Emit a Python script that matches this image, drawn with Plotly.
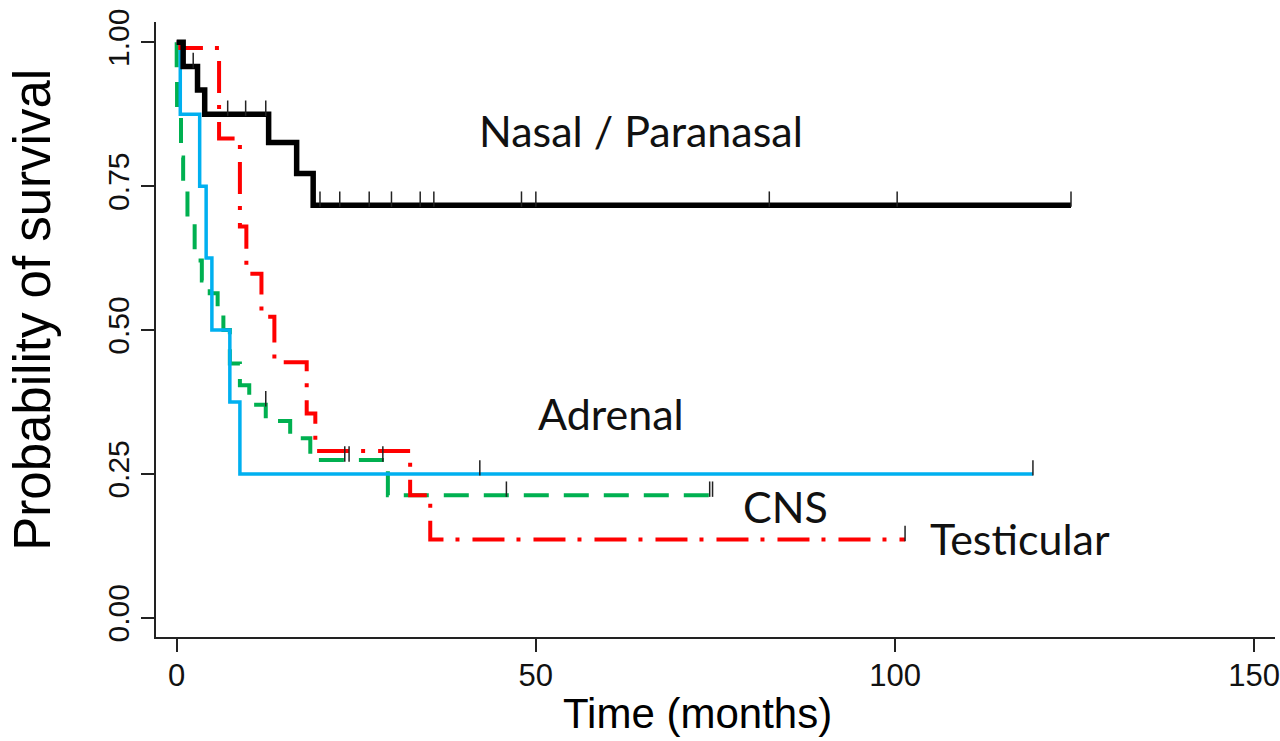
import plotly.graph_objects as go

# ---------------- data ----------------
# Nasal / Paranasal (black)
nasal_t = [0.9, 2.9, 3.9, 12.8, 16.7, 19.0]
nasal_s = [0.958, 0.917, 0.875, 0.826, 0.772, 0.717]
nasal_end = 124.5
nasal_cens_t = [2.3, 7.1, 9.6, 12.4, 19.95, 22.7, 26.8, 29.9, 33.9, 35.8, 48.0, 50.0, 82.5, 100.3, 124.5]
nasal_cens_s = [0.958, 0.875, 0.875, 0.875, 0.717, 0.717, 0.717, 0.717, 0.717, 0.717, 0.717, 0.717, 0.717, 0.717, 0.717]

# Testicular (red)
test_t = [0.5, 5.9, 8.8, 9.7, 11.8, 13.6, 18.1, 19.3, 32.5, 35.3]
test_s = [0.99, 0.833, 0.68, 0.598, 0.523, 0.444, 0.355, 0.29, 0.213, 0.136]
test_end = 101.4
test_cens_t = [101.4]
test_cens_s = [0.136]

# Adrenal (blue)
adr_t = [0.5, 3.2, 4.1, 4.9, 7.4, 8.8]
adr_s = [0.875, 0.75, 0.625, 0.5, 0.375, 0.25]
adr_end = 119.2
adr_cens_t = [42.2, 119.2]
adr_cens_s = [0.25, 0.25]

# CNS (green)
cns_t = [0.0, 0.05, 0.6, 0.9, 1.5, 2.5, 3.5, 4.6, 5.7, 6.5, 7.4, 8.8, 10.1, 12.4, 15.8, 18.6, 29.4]
cns_s = [0.943, 0.878, 0.80, 0.755, 0.685, 0.621, 0.586, 0.564, 0.53, 0.50, 0.442, 0.404, 0.37, 0.342, 0.312, 0.274, 0.213]
cns_end = 74.6
cns_cens_t = [12.4, 23.4, 24.0, 28.7, 45.9, 74.2, 74.6]
cns_cens_s = [0.37, 0.274, 0.274, 0.274, 0.213, 0.213, 0.213]

x_ticks = [0, 50, 100, 150]
y_ticks = [0.0, 0.25, 0.5, 0.75, 1.0]
y_ticktext = ["0.00", "0.25", "0.50", "0.75", "1.00"]

labels = ["Nasal / Paranasal", "Adrenal", "CNS", "Testicular"]
label_x = [64.6, 60.5, 84.8, 117.4]
label_y = [0.847, 0.355, 0.194, 0.138]

# ---------------- styles ----------------
TICK_OFF = 0.0105   # lift censor ticks so they sit on top of the line
AXIS_FONT = "Liberation Sans, Arial, sans-serif"
LABEL_FONT = "Lato, Noto Sans, sans-serif"

fig = go.Figure()


def km(t, s, end, color, width, dash):
    xs = [0] + list(t) + [end]
    ys = [1.0] + list(s) + [s[-1]]
    fig.add_trace(go.Scatter(x=xs, y=ys, mode="lines", line_shape="hv",
                             line=dict(color=color, width=width, dash=dash),
                             hoverinfo="skip", showlegend=False))


def cens(t, s):
    fig.add_trace(go.Scatter(x=t, y=[v + TICK_OFF for v in s], mode="markers",
                             marker=dict(symbol="line-ns", size=11,
                                         line=dict(color="#222222", width=1.5)),
                             hoverinfo="skip", showlegend=False))


km(cns_t, cns_s, cns_end, "#00B050", 4, "25px,15px")
km(adr_t, adr_s, adr_end, "#00B0F0", 3.5, "solid")
km(test_t, test_s, test_end, "#FF0000", 4, "32px,12px,4px,13px")
km(nasal_t, nasal_s, nasal_end, "#000000", 5.5, "solid")

cens(cns_cens_t, cns_cens_s)
cens(adr_cens_t, adr_cens_s)
cens(test_cens_t, test_cens_s)
cens(nasal_cens_t, nasal_cens_s)

for txt, lx, ly in zip(labels, label_x, label_y):
    fig.add_annotation(x=lx, y=ly, text=txt, showarrow=False,
                       font=dict(family=LABEL_FONT, size=43, color="#111111"),
                       xanchor="center", yanchor="middle")

fig.add_annotation(xref="paper", yref="paper", x=0.4835, y=-0.125,
                   text="Time (months)", showarrow=False,
                   font=dict(family=AXIS_FONT, size=42, color="#000000"),
                   xanchor="center", yanchor="middle")
fig.add_annotation(xref="paper", yref="paper", x=-0.110, y=0.532,
                   text="Probability of survival", showarrow=False, textangle=-90,
                   font=dict(family=AXIS_FONT, size=51, color="#000000"),
                   xanchor="center", yanchor="middle")

fig.update_layout(
    width=1280, height=741,
    margin=dict(l=156, r=5, t=22, b=104, autoexpand=False),
    paper_bgcolor="white", plot_bgcolor="white",
    xaxis=dict(range=[-2.88, 152.9], tickvals=x_ticks, showgrid=False, zeroline=False,
               automargin=False,
               showline=True, linecolor="#222222", linewidth=1.5,
               ticks="outside", ticklen=13, tickwidth=1.5, tickcolor="#222222",
               ticklabelstandoff=-3, ticklabeloverflow="allow",
               tickfont=dict(family=AXIS_FONT, size=31, color="#111111")),
    yaxis=dict(range=[-0.0334, 1.0353], tickvals=y_ticks, ticktext=y_ticktext,
               showgrid=False, zeroline=False, tickangle=-90, automargin=False,
               showline=True, linecolor="#222222", linewidth=1.5,
               ticks="outside", ticklen=13, tickwidth=1.5, tickcolor="#222222",
               tickfont=dict(family="Liberation Sans Narrow, Liberation Sans, Arial", size=30, color="#111111")),
)

fig.write_html("out.html", config={"displayModeBar": False},
               post_script="document.body.style.margin='0';document.body.style.overflow='hidden';")
